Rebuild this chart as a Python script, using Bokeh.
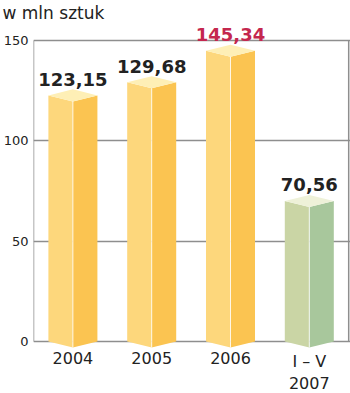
from bokeh.plotting import figure
from bokeh.models import Range1d, FixedTicker, ColumnDataSource
from bokeh.core.properties import value
from bokeh.embed import file_html
from bokeh.resources import INLINE

# ---- data ----
categories = ["2004", "2005", "2006", "I – V\n2007"]
values = [123.15, 129.68, 145.34, 70.56]
value_labels = ["123,15", "129,68", "145,34", "70,56"]
y_ticks = [0, 50, 100, 150]
unit_label = "w mln sztuk"

# ---- styles ----
LEFT_COLS = ["#FDD77C", "#FDD77C", "#FDD77C", "#CAD5A5"]
RIGHT_COLS = ["#FBC451", "#FBC451", "#FBC451", "#A8C79C"]
TOP_COLS = ["#FEEFB6", "#FEEFB6", "#FEEFB6", "#EEF1D8"]
LABEL_COLS = ["#222222", "#222222", "#C4274E", "#222222"]
GRID = "#8E8E8E"

W, H = 350, 393
LEFT_BORDER = 33
TOP_T = 22  # estimated title panel height
px_per_unit = 301 / 150.0
y0 = -(H - 341) / px_per_unit
y1 = y0 + (H - TOP_T) / px_per_unit
x_unit = 78.8
x1 = (W - LEFT_BORDER) / x_unit

p = figure(width=W, height=H, output_backend="svg", toolbar_location=None,
           x_range=Range1d(0, x1), y_range=Range1d(y0, y1),
           x_axis_type=None, min_border_left=LEFT_BORDER, min_border_right=0,
           min_border_top=0, min_border_bottom=0, title=unit_label)
p.outline_line_color = None
p.background_fill_color = "white"
p.border_fill_color = "white"

t = p.title
t.align = "left"
t.offset = -(LEFT_BORDER - 2)
t.standoff = 0
t.text_font = "DejaVu Sans"
t.text_font_style = "normal"
t.text_font_size = "17px"
t.text_color = "#222222"

# y axis
ya = p.yaxis[0]
ya.ticker = FixedTicker(ticks=y_ticks)
ya.axis_line_color = None
ya.major_tick_line_color = None
ya.minor_tick_line_color = None
ya.major_tick_out = 0
ya.major_label_standoff = 5
ya.major_label_text_font = "DejaVu Sans"
ya.major_label_text_font_size = "13px"
ya.major_label_text_color = "#222222"

p.ygrid.ticker = FixedTicker(ticks=y_ticks)
p.ygrid.grid_line_color = GRID
p.ygrid.grid_line_width = 1.5

# frame side lines
n = len(categories)
p.segment(x0=[0, n], y0=[y_ticks[0]] * 2, x1=[0, n], y1=[y_ticks[-1]] * 2,
          line_color=GRID, line_width=1.5)

# bars (pseudo-3D)
hw = 0.311
dep = 3.0
lx, ly, rx, ry, tx, ty = [], [], [], [], [], []
for i, v in enumerate(values):
    c = i + 0.5
    lx.append([c - hw, c, c, c - hw]); ly.append([0, -dep, v - 0.5 - dep, v - 0.5])
    rx.append([c, c + hw, c + hw, c]); ry.append([-dep, 0, v - 0.5, v - 0.5 - dep])
    tx.append([c - hw, c, c + hw, c]); ty.append([v - 0.5, v - 0.5 + dep, v - 0.5, v - 0.5 - dep])

p.patches(lx, ly, fill_color=LEFT_COLS, line_color=None)
p.patches(rx, ry, fill_color=RIGHT_COLS, line_color=None)
p.patches(tx, ty, fill_color=TOP_COLS, line_color=None)
centers = [i + 0.5 for i in range(n)]
p.segment(x0=centers, y0=[-dep] * n, x1=centers, y1=[v - 0.5 - dep for v in values],
          line_color="white", line_width=1, line_alpha=0.8)

# value labels
src = ColumnDataSource(dict(x=centers, y=[v + 7.5 for v in values],
                            t=value_labels, c=LABEL_COLS))
p.text(x="x", y="y", text="t", text_color="c", source=src,
       text_font=value("DejaVu Sans"), text_font_style="bold", text_font_size="18px",
       text_align="center", text_baseline="alphabetic")

# category labels
p.text(x=centers, y=[(341 - 351) / px_per_unit] * n, text=categories,
       text_font=value("DejaVu Sans"), text_font_size="16px", text_color="#222222",
       text_align="center", text_baseline="top", text_line_height=1.2)

open("out.html", "w").write(file_html(p, INLINE))
